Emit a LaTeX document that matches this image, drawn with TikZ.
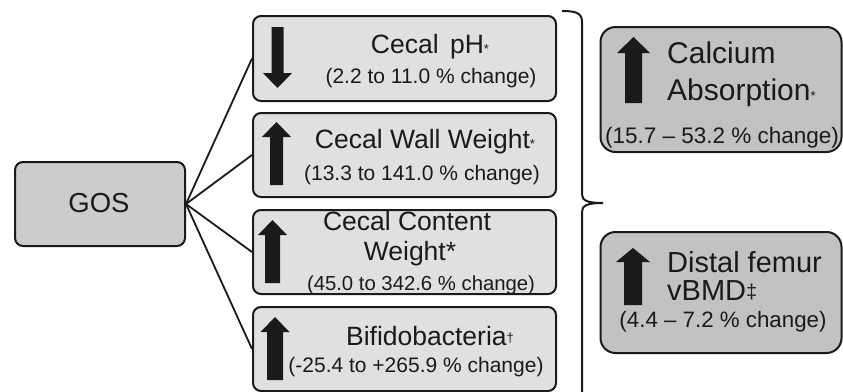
\documentclass[tikz,border=0pt]{standalone}
\usepackage{fontspec}
\setmainfont{Liberation Sans}
\definecolor{midfill}{HTML}{E0E0E0}
\definecolor{gosfill}{HTML}{CCCCCC}
\definecolor{outfill}{HTML}{C2C2C2}
\definecolor{ink}{HTML}{1A1A1A}
% block arrow: centre x, tip y, head base y, tail y, head half width, shaft half width
\newcommand\blockarrow[6]{%
  \fill[ink] (#1-#6,#4) -- (#1+#6,#4) -- (#1+#6,#3) -- (#1+#5,#3) -- (#1,#2)
    -- (#1-#5,#3) -- (#1-#6,#3) -- cycle;}
\newcommand\headsize[1]{\fontsize{26.5}{30}\selectfont #1}
\newcommand\rangesize[1]{\fontsize{21}{24}\selectfont #1}
\newcommand\marksize[1]{{\fontsize{13}{13}\selectfont #1}}
\begin{document}
\begin{tikzpicture}[x=1pt,y=-1pt,
  box/.style={draw=ink, line width=2pt, rounded corners=8pt, inner sep=0pt},
  midbox/.style={box, fill=midfill, minimum width=303pt, minimum height=84pt},
  outbox/.style={box, fill=outfill, rounded corners=15pt, minimum width=241pt},
  txt/.style={inner sep=0pt, anchor=base, text=ink},
  link/.style={draw=ink, line width=1.8pt}]
\useasboundingbox (0,0) rectangle (843,391);
\clip (0,0) rectangle (843,391);

% boxes
\node[box, fill=gosfill, minimum width=170pt, minimum height=84pt] (gos) at (100,204) {};
\node[midbox, minimum height=85pt] (b1) at (404.5,58.5) {};
\node[midbox] (b2) at (404.5,155) {};
\node[midbox] (b3) at (404.5,252) {};
\node[midbox] (b4) at (404.5,349) {};
\node[outbox, minimum height=125pt] (r1) at (721,89.5) {};
\node[outbox, minimum height=121pt] (r2) at (721,292.5) {};

% connectors from GOS
\foreach \b in {b1,b2,b3,b4} \draw[link] (gos.east) -- (\b.west);

% brace
\draw[link, line width=2pt] (562,11) .. controls (576,11) and (582,13) .. (582,22)
  -- (582,194) .. controls (582,200) and (586,203) .. (603,203)
  .. controls (586,203) and (582,206) .. (582,212) -- (582,400);

% arrows
\fill[ink] (271.5,27) -- (283.5,27) -- (283.5,73) -- (292,73) -- (277.5,88)
  -- (263,73) -- (271.5,73) -- cycle;
\blockarrow{276.5}{122}{137}{185}{14.5}{6.5}
\blockarrow{272.5}{220}{235}{283}{14.5}{7.5}
\blockarrow{275}{317}{332}{380}{14.5}{8}
\blockarrow{633.5}{37}{53}{103}{16.5}{8.5}
\blockarrow{633}{248}{262}{305}{17}{9}

% texts
\node[txt] (tgos) at (99,212) {\fontsize{27.5}{30}\selectfont GOS};

\node[txt] (t1a) at (430,53) {\headsize{Cecal\hspace{4pt} pH\marksize{*}}};
\node[txt] (t1b) at (431,83) {\rangesize{(2.2 to 11.0 \% change)}};

\node[txt] (t2a) at (425,148) {\headsize{Cecal Wall Weight\marksize{*}}};
\node[txt] (t2b) at (422,180) {\rangesize{(13.3 to 141.0 \% change)}};

\node[txt] (t3a) at (407,230) {\headsize{Cecal Content}};
\node[txt] (t3b) at (410,260) {\headsize{Weight*}};
\node[txt] (t3c) at (421,290) {\fontsize{20.3}{24}\selectfont (45.0 to 342.6 \% change)};

\node[txt] (t4a) at (430,345) {\headsize{Bifidobacteria\raisebox{3pt}{\marksize{†}}}};
\node[txt] (t4b) at (416,372) {\rangesize{(-25.4 to +265.9 \% change)}};

\node[txt, anchor=base west] (r1a) at (667,63) {\fontsize{30}{32}\selectfont Calcium};
\node[txt, anchor=base west] (r1b) at (667,100) {\fontsize{30}{32}\selectfont Absorption\marksize{*}};
\node[txt] (r1c) at (722,143) {\fontsize{22.5}{24}\selectfont (15.7 – 53.2 \% change)};

\node[txt, anchor=base west] (r2a) at (667,272) {\fontsize{29}{32}\selectfont Distal femur};
\node[txt, anchor=base west] (r2b) at (667,300) {\fontsize{29}{32}\selectfont vBMD{\fontsize{20}{20}\selectfont\raisebox{2pt}{‡}}};
\node[txt] (r2c) at (723,327) {\fontsize{22.3}{24}\selectfont (4.4 – 7.2 \% change)};
\end{tikzpicture}
\end{document}
